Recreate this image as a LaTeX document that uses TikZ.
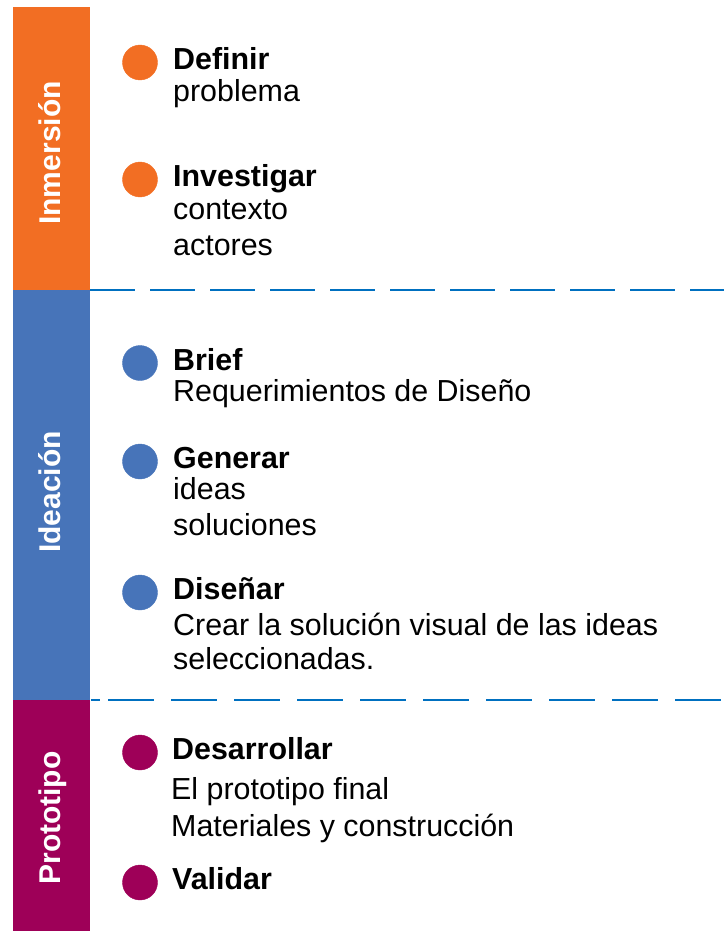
\documentclass[tikz,border=0pt]{standalone}
\usepackage{fontspec}
\setmainfont{Liberation Sans}
\definecolor{inmersion}{RGB}{242,110,35}
\definecolor{ideacion}{RGB}{71,116,185}
\definecolor{prototipo}{RGB}{158,0,88}
\definecolor{separador}{RGB}{0,112,192}
\begin{document}
\begin{tikzpicture}[x=1pt, y=-1pt,
    titulo/.style={anchor=base west, inner sep=0pt, font=\fontsize{30.4}{36}\selectfont\bfseries},
    texto/.style={anchor=base west, inner sep=0pt, font=\fontsize{30.4}{36}\selectfont},
    fase/.style={rotate=90, anchor=base, inner sep=0pt, text=white, font=\fontsize{30}{36}\selectfont\bfseries},
    sep/.style={separador, line width=2.8pt}]
    \useasboundingbox (0,0) rectangle (724,931);

    % barras de fase
    \fill[inmersion] (13,7) rectangle (90,290);
    \fill[ideacion] (13,290) rectangle (90,700);
    \fill[prototipo] (13,700) rectangle (90,931);
    \node[fase] (inm) at (60,153) {Inmersión};
    \node[fase] (ide) at (60,492) {Ideación};
    \node[fase] (pro) at (60,818) {Prototipo};

    % separadores
    \draw[sep, dash pattern=on 45pt off 15pt] (90,290) -- (724,290);
    \draw[sep] (91,700) -- (100,700);
    \draw[sep, dash pattern=on 46pt off 17pt] (108,700) -- (724,700);

    % Inmersion
    \draw[inmersion, fill=inmersion] (140,62.5) circle [radius=17.5];
    \draw[inmersion, fill=inmersion] (140,179.5) circle [radius=17.5];
    \node[titulo] (definir) at (173,70) {Definir};
    \node[texto] (problema) at (173,102) {problema};
    \node[titulo] (investigar) at (173,186) {Investigar};
    \node[texto] (contexto) at (173,219) {contexto};
    \node[texto] (actores) at (173,255) {actores};

    % Ideacion
    \draw[ideacion, fill=ideacion] (140,363) circle [radius=17.5];
    \draw[ideacion, fill=ideacion] (140,461.5) circle [radius=17.5];
    \draw[ideacion, fill=ideacion] (140,592.5) circle [radius=17.5];
    \node[titulo] (brief) at (173,370) {Brief};
    \node[texto] (requerimientos) at (173,401) {Requerimientos de Diseño};
    \node[titulo] (generar) at (173,468) {Generar};
    \node[texto] (ideas) at (173,499) {ideas};
    \node[texto] (soluciones) at (173,535) {soluciones};
    \node[titulo] (disenar) at (173,599) {Diseñar};
    \node[texto] (crear) at (173,635) {Crear la solución visual de las ideas};
    \node[texto] (seleccionadas) at (173,669) {seleccionadas.};

    % Prototipo
    \draw[prototipo, fill=prototipo] (140,752.5) circle [radius=17.5];
    \draw[prototipo, fill=prototipo] (140,882.5) circle [radius=17.5];
    \node[titulo] (desarrollar) at (172,759) {Desarrollar};
    \node[texto] (final) at (171,799) {El prototipo final};
    \node[texto] (materiales) at (171,836) {Materiales y construcción};
    \node[titulo] (validar) at (172,889) {Validar};
\end{tikzpicture}
\end{document}
